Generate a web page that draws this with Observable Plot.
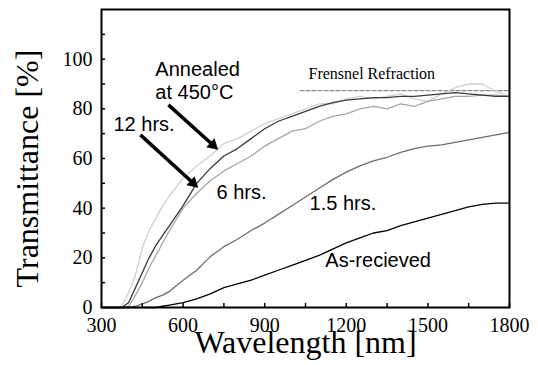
<!DOCTYPE html>
<html><head><meta charset="utf-8">
<script src="https://cdn.jsdelivr.net/npm/d3@7"></script>
<script src="https://cdn.jsdelivr.net/npm/@observablehq/plot@0.6"></script>
<style>body{margin:0;background:#fff}</style>
</head><body><div id="chart"></div>
<script>
// ---- data ----
const wavelength = [300, 350, 375, 400, 425, 450, 475, 500, 525, 550, 600, 650, 700, 750, 800, 850, 900, 950, 1000, 1050, 1100, 1150, 1200, 1250, 1300, 1350, 1400, 1450, 1500, 1550, 1600, 1650, 1700, 1750, 1800];
const annealedTop = [0, 0, 0.5, 6, 13, 24, 31, 36, 41, 45, 52, 57, 61, 66, 68, 71, 74, 76, 78, 80, 82, 82, 84, 85, 84, 85, 86, 84, 83, 86, 88.5, 90, 90, 87, 85];
const hrs12 = [0, 0, 0, 2, 8, 14, 20, 25, 29, 33, 41, 50, 56, 61, 64, 68, 72, 75, 77, 79, 81, 82.5, 83.5, 84, 84.5, 84.5, 85, 85, 85.5, 86, 86.5, 86, 85.5, 85, 85];
const hrs6 = [0, 0, 0, 0.5, 5, 10, 16, 21, 26, 31, 40, 46, 51, 55, 58, 61, 65, 68, 71, 72, 75, 77, 78, 80, 81, 80, 82, 81, 83, 84, 85, 85, 85.5, 85.5, 85];
const hrs1_5 = [0, 0, 0, 0, 0.5, 1.5, 2.5, 4, 5, 6.5, 11, 15, 20.5, 24.5, 27.5, 31, 34, 37.5, 41, 44.5, 48, 51.5, 54.5, 57, 59, 60.5, 62.5, 64, 65, 65.5, 66.5, 67.5, 68.5, 69.5, 70.5];
const asReceived = [0, 0, 0, 0, 0, 0, 0, 0, 0.5, 1, 2, 3.5, 5.5, 8, 9.5, 11, 13, 15, 17, 19, 21, 23.5, 26, 28, 30, 31, 33, 34.5, 36, 37.5, 39, 40.5, 41.5, 42, 42];
const seriesNames = ["Annealed (top)", "6 hrs.", "12 hrs.", "1.5 hrs.", "As-recieved"];
const seriesValues = [annealedTop, hrs6, hrs12, hrs1_5, asReceived];

const fresnelStart = 1030, fresnelEnd = 1800, fresnelValue = 87.3;

const xMajorTicks = [300, 600, 900, 1200, 1500, 1800];
const xMinorTicks = [450, 750, 1050, 1350, 1650];
const yLabelTicks = [0, 20, 40, 60, 80, 100];
const yAllTicks = [10, 20, 30, 40, 50, 60, 70, 80, 90, 100, 110];

const labelTexts = ["Annealed", "at 450°C", "12 hrs.", "6 hrs.", "1.5 hrs.", "As-recieved"];
const labelX = [498, 498, 344, 723, 1065, 1123];
const labelY = [95.8, 86.7, 73.5, 46.3, 41.8, 18.8];

const arrowX1 = [546, 443], arrowY1 = [81.6, 69.5], arrowX2 = [726, 653], arrowY2 = [63.8, 48.5];

// ---- styles ----
const seriesColors = {"Annealed (top)": "#cfcfcf", "6 hrs.": "#a6a6a6", "12 hrs.": "#3a3a3a", "1.5 hrs.": "#6e6e6e", "As-recieved": "#000"};
const serif = "Liberation Serif, Times New Roman, serif";
const sans = "Liberation Sans, Arial, sans-serif";

const W = 538, H = 365, mL = 101, mR = 29, mT = 9, mB = 58;
const innerW = W - mL - mR, innerH = H - mT - mB;

const rows = seriesNames.map((name, s) => wavelength.map((w, i) => ({series: name, wavelength: w, T: seriesValues[s][i]})));
const fresnel = [{wavelength: fresnelStart, T: fresnelValue}, {wavelength: fresnelEnd, T: fresnelValue}];
const labels = labelTexts.map((t, i) => ({text: t, x: labelX[i], y: labelY[i]}));

const baseOptions = {
  width: W, height: H,
  marginLeft: mL, marginRight: mR, marginTop: mT, marginBottom: mB,
  x: {domain: [300, 1800]},
  y: {domain: [0, 120]},
  style: {background: "#fff", color: "#000"}
};

// use the library's scales to orient filled arrowheads
const probe = Plot.plot({...baseOptions, marks: [Plot.frame()]});
const sx = probe.scale("x"), sy = probe.scale("y");
const headBack = 6;
const arrows = arrowX1.map((d, i) => {
  const px1 = sx.apply(arrowX1[i]), py1 = sy.apply(arrowY1[i]);
  const px2 = sx.apply(arrowX2[i]), py2 = sy.apply(arrowY2[i]);
  const ang = Math.atan2(py2 - py1, px2 - px1);
  return {
    x1: arrowX1[i], y1: arrowY1[i],
    hx: sx.invert(px2 - Math.cos(ang) * headBack),
    hy: sy.invert(py2 - Math.sin(ang) * headBack),
    rot: ang * 180 / Math.PI + 90
  };
});

const chart = Plot.plot({
  ...baseOptions,
  marks: [
    Plot.line(fresnel, {x: "wavelength", y: "T", stroke: "#8a8a8a", strokeWidth: 1.2, strokeDasharray: "4,2"}),
    ...rows.map(r => Plot.line(r, {x: "wavelength", y: "T", stroke: seriesColors[r[0].series], strokeWidth: 1.3})),
    Plot.ruleX(xMajorTicks.concat(xMinorTicks), {x: d => d, insetTop: innerH - 4, strokeWidth: 1.5}),
    Plot.ruleY(yAllTicks, {y: d => d, insetRight: innerW - 4, strokeWidth: 1.5}),
    Plot.frame({strokeWidth: 2}),
    Plot.axisX({ticks: xMajorTicks, tickSize: 0, tickPadding: 10, tickFormat: "d", fontSize: 20, fontFamily: serif, label: null}),
    Plot.axisY({ticks: yLabelTicks, tickSize: 0, tickPadding: 9, tickFormat: "d", fontSize: 20, fontFamily: serif, label: null}),
    Plot.text(["Wavelength [nm]"], {frameAnchor: "bottom", dy: 35, textAnchor: "middle", lineAnchor: "middle", fontSize: 32, fontFamily: serif}),
    Plot.text(["Transmittance [%]"], {frameAnchor: "left", rotate: -90, dx: -74, dy: 10, textAnchor: "middle", lineAnchor: "middle", fontSize: 32, fontFamily: serif}),
    Plot.text(["Frensnel Refraction"], {x: [1061], y: [94.1], textAnchor: "start", lineAnchor: "middle", fontSize: 16, fontFamily: serif}),
    Plot.text(labels, {x: "x", y: "y", text: "text", textAnchor: "start", lineAnchor: "middle", fontSize: 20, fontFamily: sans}),
    Plot.link(arrows, {x1: "x1", y1: "y1", x2: "hx", y2: "hy", stroke: "#000", strokeWidth: 3.5}),
    Plot.dot(arrows, {x: "hx", y: "hy", symbol: "triangle", r: 4.2, fill: "#000", stroke: "#000", strokeWidth: 0.5, rotate: "rot"})
  ]
});
document.getElementById("chart").appendChild(chart);
</script>
</body></html>
